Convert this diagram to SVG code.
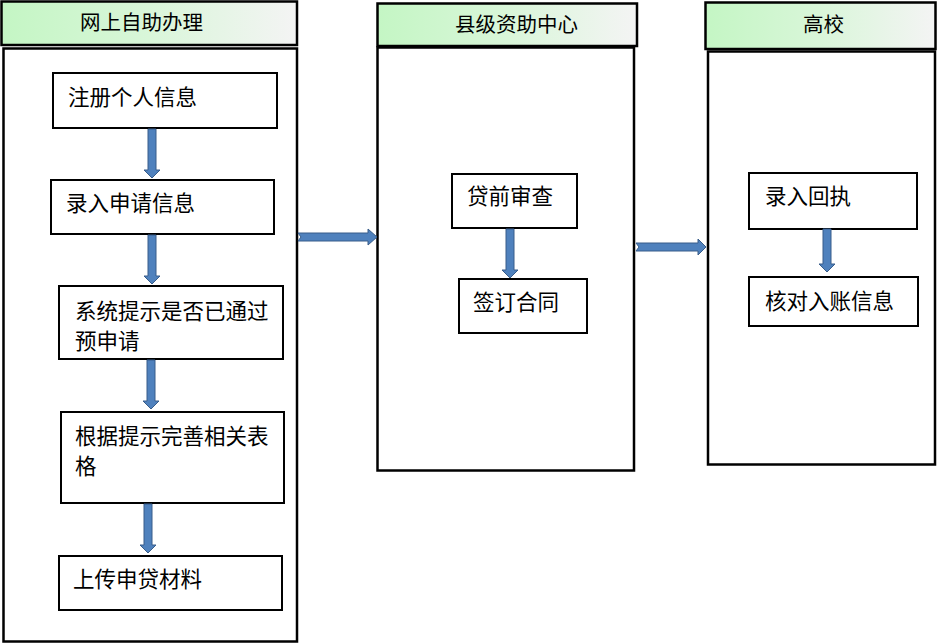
<svg xmlns="http://www.w3.org/2000/svg" width="937" height="644" viewBox="0 0 937 644">
<defs>
<linearGradient id="hg" x1="0" y1="0" x2="1" y2="0">
<stop offset="0" stop-color="#c4f6c4"/>
<stop offset="0.5" stop-color="#d9f6d9"/>
<stop offset="1" stop-color="#f4f4f4"/>
</linearGradient>
<style>
.hdr{fill:url(#hg);stroke:#000;stroke-width:2.5}
.lane{fill:#fff;stroke:#000;stroke-width:2.5}
.box{fill:#fff;stroke:#000;stroke-width:2}
.t{font-family:"Noto Sans CJK SC","Noto Sans CJK JP",sans-serif;font-size:21.5px;fill:#000}
.h{font-size:20.5px}
.arr{fill:#4f81bd;stroke:#385d8a;stroke-width:1}
</style>
</defs>
<rect width="937" height="644" fill="#fff"/>
<g id="lane-online">
<rect class="hdr" x="1.5" y="1.5" width="295.5" height="43.5"/>
<text class="t h" x="80" y="30">网上自助办理</text>
<rect class="lane" x="3.5" y="48.5" width="293.5" height="593"/>
</g>
<g id="lane-county">
<rect class="hdr" x="377.5" y="3.5" width="259.5" height="42.5"/>
<text class="t h" x="455" y="32">县级资助中心</text>
<rect class="lane" x="377.5" y="47.5" width="256.5" height="423"/>
</g>
<g id="lane-school">
<rect class="hdr" x="705.5" y="2.5" width="230" height="46.5"/>
<text class="t h" x="803" y="32">高校</text>
<rect class="lane" x="708" y="51.5" width="227" height="413"/>
</g>
<g id="n1"><rect class="box" x="53" y="73" width="224" height="55"/><text class="t" x="68" y="105">注册个人信息</text></g>
<g id="n2"><rect class="box" x="51" y="180" width="223" height="54"/><text class="t" x="66" y="211">录入申请信息</text></g>
<g id="n3"><rect class="box" x="59" y="286" width="224" height="73"/><text class="t" x="75" y="319">系统提示是否已通过</text><text class="t" x="75" y="349">预申请</text></g>
<g id="n4"><rect class="box" x="61" y="412" width="223" height="91"/><text class="t" x="75" y="444">根据提示完善相关表</text><text class="t" x="75" y="474">格</text></g>
<g id="n5"><rect class="box" x="59" y="556" width="223" height="54"/><text class="t" x="73" y="587">上传申贷材料</text></g>
<g id="m1"><rect class="box" x="452" y="174" width="125" height="54"/><text class="t" x="467" y="204">贷前审查</text></g>
<g id="m2"><rect class="box" x="459" y="279" width="128" height="54"/><text class="t" x="473" y="310">签订合同</text></g>
<g id="r1"><rect class="box" x="749" y="173" width="168" height="56"/><text class="t" x="765" y="204">录入回执</text></g>
<g id="r2"><rect class="box" x="749" y="277" width="169" height="49"/><text class="t" x="765" y="309">核对入账信息</text></g>
<g id="connectors">
<path class="arr" d="M148,129 L156,129 L156,170 L160,170 L152,178 L144,170 L148,170 Z"/>
<path class="arr" d="M148,235 L156,235 L156,276 L160,276 L152,284 L144,276 L148,276 Z"/>
<path class="arr" d="M147,360 L155,360 L155,401 L159,401 L151,409 L143,401 L147,401 Z"/>
<path class="arr" d="M144,504 L152,504 L152,545 L156,545 L148,553 L140,545 L144,545 Z"/>
<path class="arr" d="M506,229 L514,229 L514,270 L518,270 L510,278 L502,270 L506,270 Z"/>
<path class="arr" d="M823,229 L831,229 L831,264 L835,264 L827,272 L819,264 L823,264 Z"/>
<path class="arr" d="M298,233 L368,233 L368,229 L377,237 L368,245 L368,241 L298,241 L301,237 Z"/>
<path class="arr" d="M636,243 L698,243 L698,239 L706,247 L698,255 L698,251 L636,251 L639,247 Z"/>
</g>
</svg>
